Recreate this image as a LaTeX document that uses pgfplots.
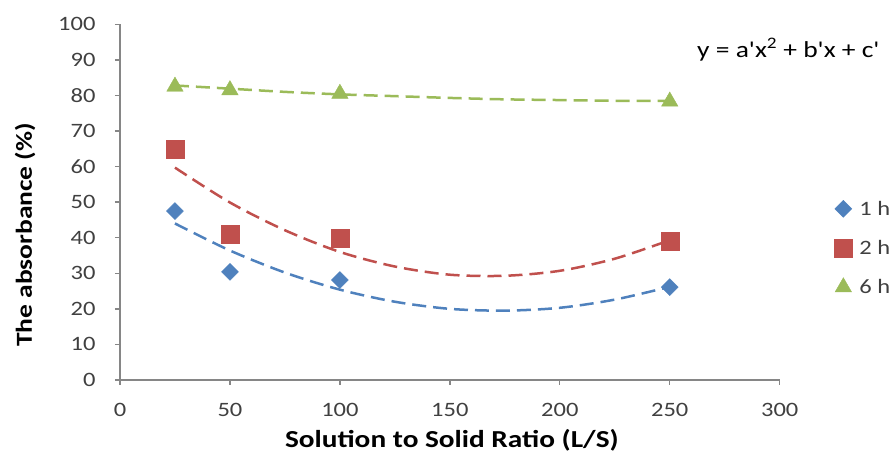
\documentclass[border=0pt]{standalone}
\usepackage{pgfplots}
\pgfplotsset{compat=1.18}
\usepackage{fontspec}
\setmainfont{Carlito}[FakeStretch=1.2]
\newfontfamily\eqfont{Carlito}[FakeStretch=1.2, Ligatures=TeXOff]
\definecolor{s1}{HTML}{4F81BD}
\definecolor{s2}{HTML}{C0504D}
\definecolor{s3}{HTML}{9BBB59}
\definecolor{axgray}{HTML}{868686}
\definecolor{ticktext}{HTML}{404040}
\begin{document}
\begin{tikzpicture}[x=1bp,y=1bp]
\useasboundingbox (-120,-81) rectangle (769,380);
\begin{axis}[
  at={(0,0)}, anchor=south west,
  scale only axis, width=659.7bp, height=355.7bp,
  xmin=0, xmax=300, ymin=0, ymax=100,
  xtick={0,50,...,300}, ytick={0,10,...,100},
  axis lines*=left,
  hide obscured x ticks=false, hide obscured y ticks=false,
  axis line style={axgray, line width=1.3bp},
  tick style={axgray, line width=1.3bp},
  tick align=outside, major tick length=5bp,
  /pgf/number format/assume math mode=true,
  ticklabel style={font=\fontsize{20.5}{24}\selectfont, text=ticktext},
  xticklabel style={yshift=-15bp},
  yticklabel style={xshift=-16bp},
  xlabel={\textbf{Solution to Solid Ratio (L/S)}},
  ylabel={\textbf{The absorbance (\%)}},
  xlabel style={font=\fontsize{24.5}{28}\selectfont, at={(axis description cs:0.503,-0.169)}, anchor=center},
  ylabel style={font=\fontsize{23}{27}\selectfont, at={(axis description cs:-0.144,0.408)}, anchor=center},
  legend image code/.code={\draw[#1] plot coordinates {(0bp,0bp)};},
  legend style={draw=none, fill=none, at={(1.078,0.371)}, anchor=west,
    font=\fontsize{20.5}{24}\selectfont, text=ticktext, row sep=19.5bp,
    /tikz/every odd column/.append style={column sep=5bp}},
  legend cell align=left,
]
% trendlines (quadratic fits)
\addplot[s1, line width=2.5bp, dash pattern=on 14bp off 7bp, smooth, forget plot] coordinates {
 (25,44.0) (50,36.4) (75,30.2) (100,25.4) (125,22.0) (150,20.0) (175,19.5) (200,20.3) (225,22.6) (250,26.2)};
\addplot[s2, line width=2.5bp, dash pattern=on 14bp off 7bp, smooth, forget plot] coordinates {
 (25,59.7) (50,49.9) (75,42.1) (100,36.0) (125,31.9) (150,29.6) (175,29.3) (200,30.7) (225,34.1) (250,39.3)};
\addplot[s3, line width=2.5bp, dash pattern=on 14bp off 7bp, smooth, forget plot] coordinates {
 (25,82.8) (50,81.9) (75,81.0) (100,80.3) (125,79.8) (150,79.3) (175,78.9) (200,78.7) (225,78.5) (250,78.5)};
% data
\addplot[only marks, mark=square*, mark size=6bp, mark options={s1, fill=s1, rotate=45}] coordinates {
 (25,47.5) (50,30.4) (100,28.1) (250,26.1)};
\addlegendentry{1 h}
\addplot[only marks, mark=square*, mark size=9bp, mark options={s2, fill=s2}] coordinates {
 (25,65.0) (50,41.0) (100,39.8) (250,39.0)};
\addlegendentry{2 h}
\addplot[only marks, mark=triangle*, mark size=9.5bp, mark options={s3, fill=s3}] coordinates {
 (25,82.5) (50,81.5) (100,80.5) (250,78.3)};
\addlegendentry{6 h}
\end{axis}
\node[anchor=west, font=\eqfont\fontsize{23}{27}\selectfont, inner sep=0pt] at (577,330) {y = a'x\textsuperscript{2} + b'x + c'};
\end{tikzpicture}
\end{document}
